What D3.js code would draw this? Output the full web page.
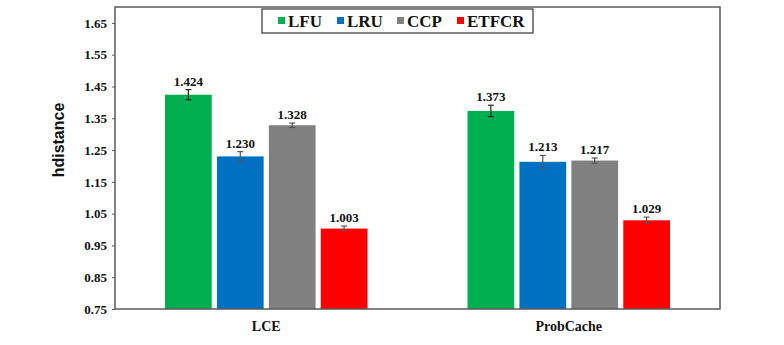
<!DOCTYPE html>
<html><head><meta charset="utf-8">
<script src="https://cdn.jsdelivr.net/npm/d3@7"></script>
<style>body{margin:0;background:#fff}svg{display:block}
.sf{font-family:"Times New Roman","Liberation Serif","DejaVu Serif",serif;font-weight:bold}
</style>
</head><body>
<script>
const categories = ["LCE", "ProbCache"];
const seriesNames = ["LFU", "LRU", "CCP", "ETFCR"];
const seriesColors = ["#00B050", "#0070C0", "#808080", "#FF0000"];
const LFU = [1.424, 1.373];
const LRU = [1.230, 1.213];
const CCP = [1.328, 1.217];
const ETFCR = [1.003, 1.029];
const LFUerr = [0.016, 0.018];
const LRUerr = [0.015, 0.02];
const CCPerr = [0.007, 0.008];
const ETFCRerr = [0.008, 0.01];
const yTicks = [0.75, 0.85, 0.95, 1.05, 1.15, 1.25, 1.35, 1.45, 1.55, 1.65];

const values = [LFU, LRU, CCP, ETFCR];
const errs = [LFUerr, LRUerr, CCPerr, ETFCRerr];

const W = 784, H = 345;
const m = {l: 115, r: 64, t: 7, b: 36};
const svg = d3.select("body").append("svg").attr("width", W).attr("height", H);

const x0 = d3.scaleBand().domain(categories).range([m.l, W - m.r]).padding(0);
const x1 = d3.scaleBand().domain(seriesNames).range([50, x0.bandwidth() - 50]).paddingInner(0.1);
const y = d3.scaleLinear().domain([0.75, 1.70]).range([H - m.b, m.t]);

// bars
seriesNames.forEach((s, si) => {
  categories.forEach((c, ci) => {
    const v = values[si][ci], e = errs[si][ci];
    const bx = x0(c) + x1(s);
    svg.append("rect").attr("x", bx).attr("y", y(v)).attr("width", x1.bandwidth())
      .attr("height", y(0.75) - y(v)).attr("fill", seriesColors[si]);
    const cx = bx + x1.bandwidth() / 2;
    const ec = si === 0 ? "#222" : "#555";
    svg.append("line").attr("x1", cx).attr("x2", cx).attr("y1", y(v - e)).attr("y2", y(v + e)).attr("stroke", ec).attr("stroke-width", 1.2);
    [v - e, v + e].forEach(t => svg.append("line").attr("x1", cx - 3).attr("x2", cx + 3).attr("y1", y(t)).attr("y2", y(t)).attr("stroke", ec).attr("stroke-width", 1.2));
    svg.append("text").attr("class", "sf").attr("x", cx).attr("y", y(v + e) - 4).attr("text-anchor", "middle")
      .attr("font-size", 13).attr("fill", "#111")
      .text(v.toFixed(3));
  });
});

// frame
svg.append("rect").attr("x", m.l).attr("y", m.t).attr("width", W - m.r - m.l).attr("height", H - m.b - m.t)
  .attr("fill", "none").attr("stroke", "#595959").attr("stroke-width", 1.5);

// y axis
const ya = svg.append("g").attr("transform", `translate(${m.l},0)`)
  .call(d3.axisLeft(y).tickValues(yTicks).tickFormat(d3.format(".2f")).tickSize(3).tickPadding(5));
ya.select(".domain").remove();
ya.selectAll("line").attr("stroke", "#595959");
ya.selectAll("text").attr("class", "sf").attr("font-family", null).attr("font-size", 13).attr("fill", "#111");

// x axis labels
const xa = svg.append("g").attr("transform", `translate(0,${H - m.b})`)
  .call(d3.axisBottom(x0).tickSize(0).tickPadding(12));
xa.select(".domain").remove();
xa.attr("font-family", null);
ya.attr("font-family", null);
xa.selectAll("text").attr("class", "sf").attr("font-size", 14).attr("fill", "#111");

// y label
svg.append("text").attr("transform", "translate(64,140) rotate(-90)").attr("text-anchor", "middle")
  .attr("font-family", "'Liberation Sans',Arial,sans-serif").attr("font-weight", "bold").attr("font-size", 16)
  .attr("fill", "#111").text("hdistance");

// legend
const lg = svg.append("g");
lg.append("rect").attr("x", 262).attr("y", 9).attr("width", 271).attr("height", 24)
  .attr("fill", "#fff").attr("stroke", "#333").attr("stroke-width", 1.2);
const lx = [278, 337, 397, 457];
seriesNames.forEach((s, i) => {
  lg.append("rect").attr("x", lx[i]).attr("y", 17).attr("width", 7).attr("height", 7).attr("fill", seriesColors[i]);
  lg.append("text").attr("class", "sf").attr("x", lx[i] + 10).attr("y", 26.5)
    .attr("font-size", 17).attr("fill", "#111").text(s);
});
</script>
</body></html>
